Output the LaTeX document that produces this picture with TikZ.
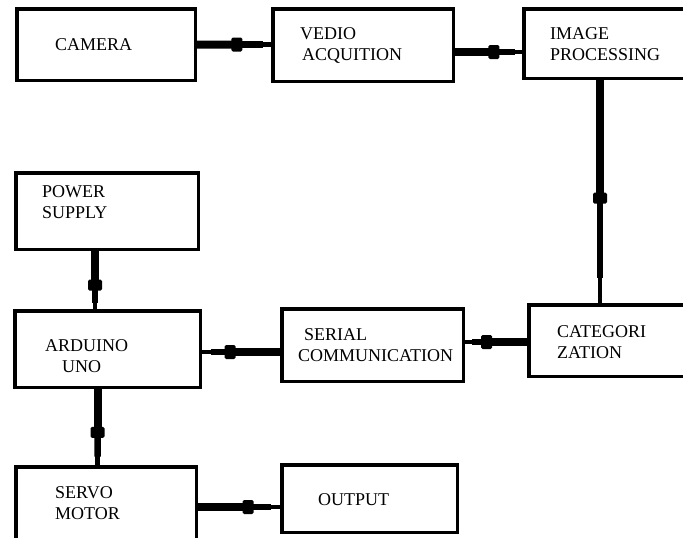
\documentclass[tikz,border=0pt]{standalone}
\usepackage{fontspec}
\setmainfont{Liberation Serif}
\usetikzlibrary{calc}
\newcommand{\twolines}[3]{\vtop{\baselineskip=21pt\lineskiplimit=-20pt\hbox{#1}\hbox{\hspace*{#3}#2}}}
\newcommand{\linkit}[3][0.58]{%
  \draw[mainline] (#2) -- ($(#2)!#1!(#3)$);
  \draw[midline] ($(#2)!#1!(#3)$) -- ($(#2)!0.89!(#3)$);
  \draw[endline] ($(#2)!0.88!(#3)$) -- (#3);
  \path (#2) -- (#3) node[bumpnode,sloped,pos=#1]{};}
\tikzset{
  box/.style 2 args={draw, line width=3.5pt, minimum width=#1, minimum height=#2, inner sep=0pt},
  lbl/.style={anchor=base west, inner sep=0pt, font=\fontsize{18}{21}\selectfont},
  mainline/.style={line width=8pt},
  midline/.style={line width=6.5pt},
  endline/.style={line width=4.5pt},
  bumpnode/.style={fill=black, draw=none, minimum width=11pt, minimum height=14pt, inner sep=0pt, rounded corners=1.5pt}
}
\begin{document}
\begin{tikzpicture}[x=1pt,y=-1pt]
\fill[white] (0,0) rectangle (683,538);
\useasboundingbox (0,0) rectangle (683,538);
% boxes
\node[box={178.5pt}{71.5pt}] (cam) at (106,44.5) {};
\node[box={180.5pt}{72.5pt}] (ved) at (363,45) {};
\node[box={180.5pt}{69.5pt}] (img) at (614,43.5) {};
\node[box={179.5pt}{71.5pt}] (cat) at (618.5,340.5) {};
\node[box={181.5pt}{72.5pt}] (ser) at (372.5,345) {};
\node[box={182.5pt}{76.5pt}] (pow) at (107,211) {};
\node[box={185.5pt}{76.5pt}] (ard) at (107.5,349) {};
\node[box={180.5pt}{76.5pt}] (srv) at (106,505) {};
\node[box={175.5pt}{67.5pt}] (out) at (369.5,498.5) {};
% labels
\node[lbl] (tcam) at (55,50) {CAMERA};
\node[lbl] (tved) at (300,39) {\twolines{VEDIO}{ACQUITION}{2pt}};
\node[lbl] (timg) at (550,39) {\twolines{IMAGE}{PROCESSING}{0pt}};
\node[lbl] (tcat) at (557,337) {\twolines{CATEGORI}{ZATION}{0pt}};
\node[lbl] (tser) at (304,340) {\twolines{SERIAL}{COMMUNICATION}{-6pt}};
\node[lbl] (tpow) at (42,197) {\twolines{POWER}{SUPPLY}{0pt}};
\node[lbl] (tard) at (45,351) {\twolines{ARDUINO}{UNO}{17pt}};
\node[lbl] (tsrv) at (55,498) {\twolines{SERVO}{MOTOR}{0pt}};
\node[lbl] (tout) at (318,505) {OUTPUT};
% connector end points
\coordinate (a1) at (cam.east);
\coordinate (b1) at (a1 -| ved.west);
\coordinate (a2) at ([yshift=-7pt]ved.east);
\coordinate (b2) at (a2 -| img.west);
\coordinate (a3) at ([xshift=-14pt]img.south);
\coordinate (b3) at (a3 |- cat.north);
\coordinate (a4) at ([yshift=-1.5pt]cat.west);
\coordinate (b4) at (a4 -| ser.east);
\coordinate (a5) at ([yshift=-7pt]ser.west);
\coordinate (b5) at (a5 -| ard.east);
\coordinate (a6) at ([xshift=-12pt]pow.south);
\coordinate (b6) at (a6 |- ard.north);
\coordinate (a7) at ([xshift=-10pt]ard.south);
\coordinate (b7) at (a7 |- srv.north);
\coordinate (a8) at ([yshift=-2pt]srv.east);
\coordinate (b8) at (a8 -| out.west);
% connectors
\linkit[0.54]{a1}{b1}
\linkit[0.58]{a2}{b2}
\linkit[0.53]{a3}{b3}
\linkit[0.65]{a4}{b4}
\linkit[0.64]{a5}{b5}
\linkit[0.59]{a6}{b6}
\linkit[0.57]{a7}{b7}
\linkit[0.61]{a8}{b8}
\end{tikzpicture}
\end{document}
